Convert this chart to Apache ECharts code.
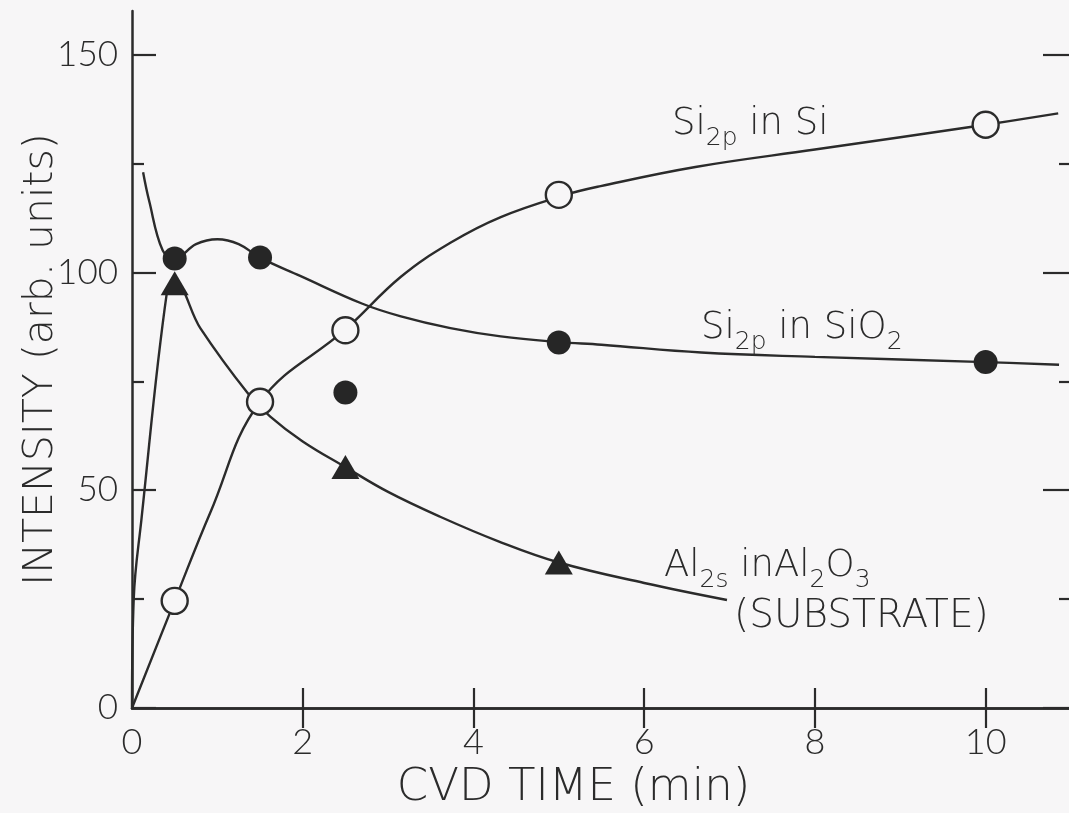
<!DOCTYPE html>
<html>
<head>
<meta charset="utf-8">
<script src="https://cdn.jsdelivr.net/npm/echarts@6/dist/echarts.min.js"></script>
<style>
  html, body { margin: 0; padding: 0; background: #f7f6f7; }
  #chart { width: 1069px; height: 813px; }
</style>
</head>
<body>
<div id="chart"></div>
<script>
// ---- axis ticks / labels ----
const xLabelValues = [0, 2, 4, 6, 8, 10];
const xTickValues = [2, 4, 6, 8, 10];
const yMajorValues = [0, 50, 100, 150];
const yMinorValues = [25, 75, 125];

// ---- measured points ----
const siX = [0.5, 1.5, 2.5, 5, 10];
const siY = [24.6, 70.3, 86.7, 117.8, 133.9];
const sio2X = [0.5, 1.5, 2.5, 5, 10];
const sio2Y = [103.2, 103.4, 72.4, 83.9, 79.4];
const alX = [0.5, 2.5, 5];
const alY = [97.5, 55.3, 33.4];

// ---- hand-drawn guide curves ----
const siCurveX = [0, 0.5, 0.92, 1.5, 2.5, 3.15, 3.73, 4.32, 5.08, 5.49, 6.6, 8.0, 10.0, 10.85];
const siCurveY = [0, 24.6, 45.0, 70.3, 86.9, 99.0, 106.8, 112.7, 117.8, 119.8, 124.2, 128.2, 133.9, 136.5];
const sio2CurveX = [0.13, 0.2, 0.36, 0.5, 0.75, 1.0, 1.25, 1.5, 1.97, 2.7, 3.15, 3.73, 4.32, 5.0, 5.5, 6.67, 8.0, 10.0, 10.86];
const sio2CurveY = [123, 116.5, 105, 103.2, 106.5, 107.6, 106.5, 103.4, 99.2, 92.8, 89.9, 87.2, 85.3, 84.0, 83.4, 81.6, 80.6, 79.4, 78.8];
const alCurveX = [0, 0.02, 0.11, 0.41, 0.5, 0.8, 1.35, 1.62, 2.0, 2.5, 3.0, 3.61, 4.3, 5.0, 6.0, 6.97];
const alCurveY = [0, 25, 43.2, 95.6, 97.5, 87.2, 72.4, 66.9, 61.2, 55.3, 49.6, 43.9, 38.2, 33.4, 28.7, 24.8];

const BG = '#f7f6f7';
const INK = '#2b2b2b';
const TICKFONT = 'Lato, "Noto Sans", sans-serif';
const TEXTFONT = '"DejaVu Sans", "Noto Sans", sans-serif';

function pairs(xs, ys) { return xs.map((x, i) => [x, ys[i]]); }

const chart = echarts.init(document.getElementById('chart'), null, { renderer: 'canvas' });

const axisLine = { show: true, lineStyle: { color: INK, width: 2.5 } };
const tickStyle = { color: INK, width: 2.2 };

const richAnno = {
  n: { fontSize: 37, lineHeight: 38, verticalAlign: 'top', fontFamily: TEXTFONT, fontWeight: 200, color: INK },
  s: { fontSize: 25, lineHeight: 45, verticalAlign: 'bottom', fontFamily: TEXTFONT, fontWeight: 200, color: INK }
};
const richBig = {
  n: { fontSize: 39, lineHeight: 40, verticalAlign: 'top', fontFamily: TEXTFONT, fontWeight: 200, color: INK }
};

const option = {
  backgroundColor: BG,
  animation: false,
  grid: { left: 132, right: -2, top: 11, bottom: 105, containLabel: false, outerBoundsMode: 'none' },
  xAxis: [
    {
      type: 'value', min: 0, max: 11, position: 'bottom',
      name: 'CVD TIME (min)', nameLocation: 'middle', nameGap: 58, nameMoveOverlap: false,
      nameTextStyle: { fontSize: 45, fontFamily: TEXTFONT, fontWeight: 200, color: INK, padding: [0, 56, 0, 0] },
      axisLine: axisLine,
      axisTick: { show: true, inside: true, length: 20, lineStyle: tickStyle, customValues: xTickValues },
      axisLabel: { show: true, customValues: xLabelValues, margin: 16, fontSize: 36, fontFamily: TICKFONT, fontWeight: 300, color: INK },
      splitLine: { show: false }
    },
    {
      type: 'value', min: 0, max: 11, position: 'top',
      axisLine: axisLine,
      axisTick: { show: true, inside: true, length: 20, lineStyle: tickStyle, customValues: xTickValues },
      axisLabel: { show: false },
      splitLine: { show: false }
    }
  ],
  yAxis: [
    {
      type: 'value', min: 0, max: 160, position: 'left',
      name: 'INTENSITY (arb. units)', nameLocation: 'middle', nameGap: 70, nameRotate: 90, nameMoveOverlap: false,
      nameTextStyle: { fontSize: 41, fontFamily: TEXTFONT, fontWeight: 200, color: INK },
      axisLine: axisLine,
      axisTick: { show: true, inside: true, length: 24, lineStyle: tickStyle, customValues: yMajorValues },
      axisLabel: { show: true, customValues: yMajorValues, margin: 14, fontSize: 35, fontFamily: TICKFONT, fontWeight: 300, color: INK },
      splitLine: { show: false }
    },
    {
      type: 'value', min: 0, max: 160, position: 'left',
      axisLine: { show: false },
      axisTick: { show: true, inside: true, length: 12, lineStyle: tickStyle, customValues: yMinorValues },
      axisLabel: { show: false },
      splitLine: { show: false }
    },
    {
      type: 'value', min: 0, max: 160, position: 'right',
      axisLine: axisLine,
      axisTick: { show: true, inside: true, length: 28, lineStyle: tickStyle, customValues: yMajorValues },
      axisLabel: { show: false },
      splitLine: { show: false }
    },
    {
      type: 'value', min: 0, max: 160, position: 'right',
      axisLine: { show: false },
      axisTick: { show: true, inside: true, length: 12, lineStyle: tickStyle, customValues: yMinorValues },
      axisLabel: { show: false },
      splitLine: { show: false }
    }
  ],
  series: [
    { type: 'line', name: 'Si2p in Si curve', data: pairs(siCurveX, siCurveY), smooth: 0.4, showSymbol: false,
      lineStyle: { color: INK, width: 2.4 }, z: 2, silent: true },
    { type: 'line', name: 'Si2p in SiO2 curve', data: pairs(sio2CurveX, sio2CurveY), smooth: 0.4, showSymbol: false,
      lineStyle: { color: INK, width: 2.4 }, z: 2, silent: true },
    { type: 'line', name: 'Al2s curve', data: pairs(alCurveX, alCurveY), smooth: 0.4, showSymbol: false,
      lineStyle: { color: INK, width: 2.4 }, z: 2, silent: true },
    { type: 'scatter', name: 'Si2p in Si', data: pairs(siX, siY), symbol: 'circle', symbolSize: 26,
      itemStyle: { color: BG, borderColor: INK, borderWidth: 2.4, opacity: 1 }, z: 5 },
    { type: 'scatter', name: 'Si2p in SiO2', data: pairs(sio2X, sio2Y), symbol: 'circle', symbolSize: 24,
      itemStyle: { color: '#262626', opacity: 1 }, z: 5 },
    { type: 'scatter', name: 'Al2s in Al2O3', data: pairs(alX, alY), symbol: 'triangle', symbolSize: [28, 24],
      itemStyle: { color: '#262626', opacity: 1 }, z: 5 }
  ],
  graphic: [
    { type: 'text', left: 672, top: 106, z: 10,
      style: { text: '{n|Si}{s|2p}{n| in Si}', rich: richAnno, fill: INK } },
    { type: 'text', left: 701, top: 310, z: 10,
      style: { text: '{n|Si}{s|2p}{n| in SiO}{s|2}', rich: richAnno, fill: INK } },
    { type: 'text', left: 664, top: 548, z: 10,
      style: { text: '{n|Al}{s|2s}{n| inAl}{s|2}{n|O}{s|3}', rich: richAnno, fill: INK } },
    { type: 'text', left: 734, top: 597, z: 10,
      style: { text: '{n|(SUBSTRATE)}', rich: richBig, fill: INK } }
  ]
};

chart.setOption(option);
</script>
</body>
</html>
